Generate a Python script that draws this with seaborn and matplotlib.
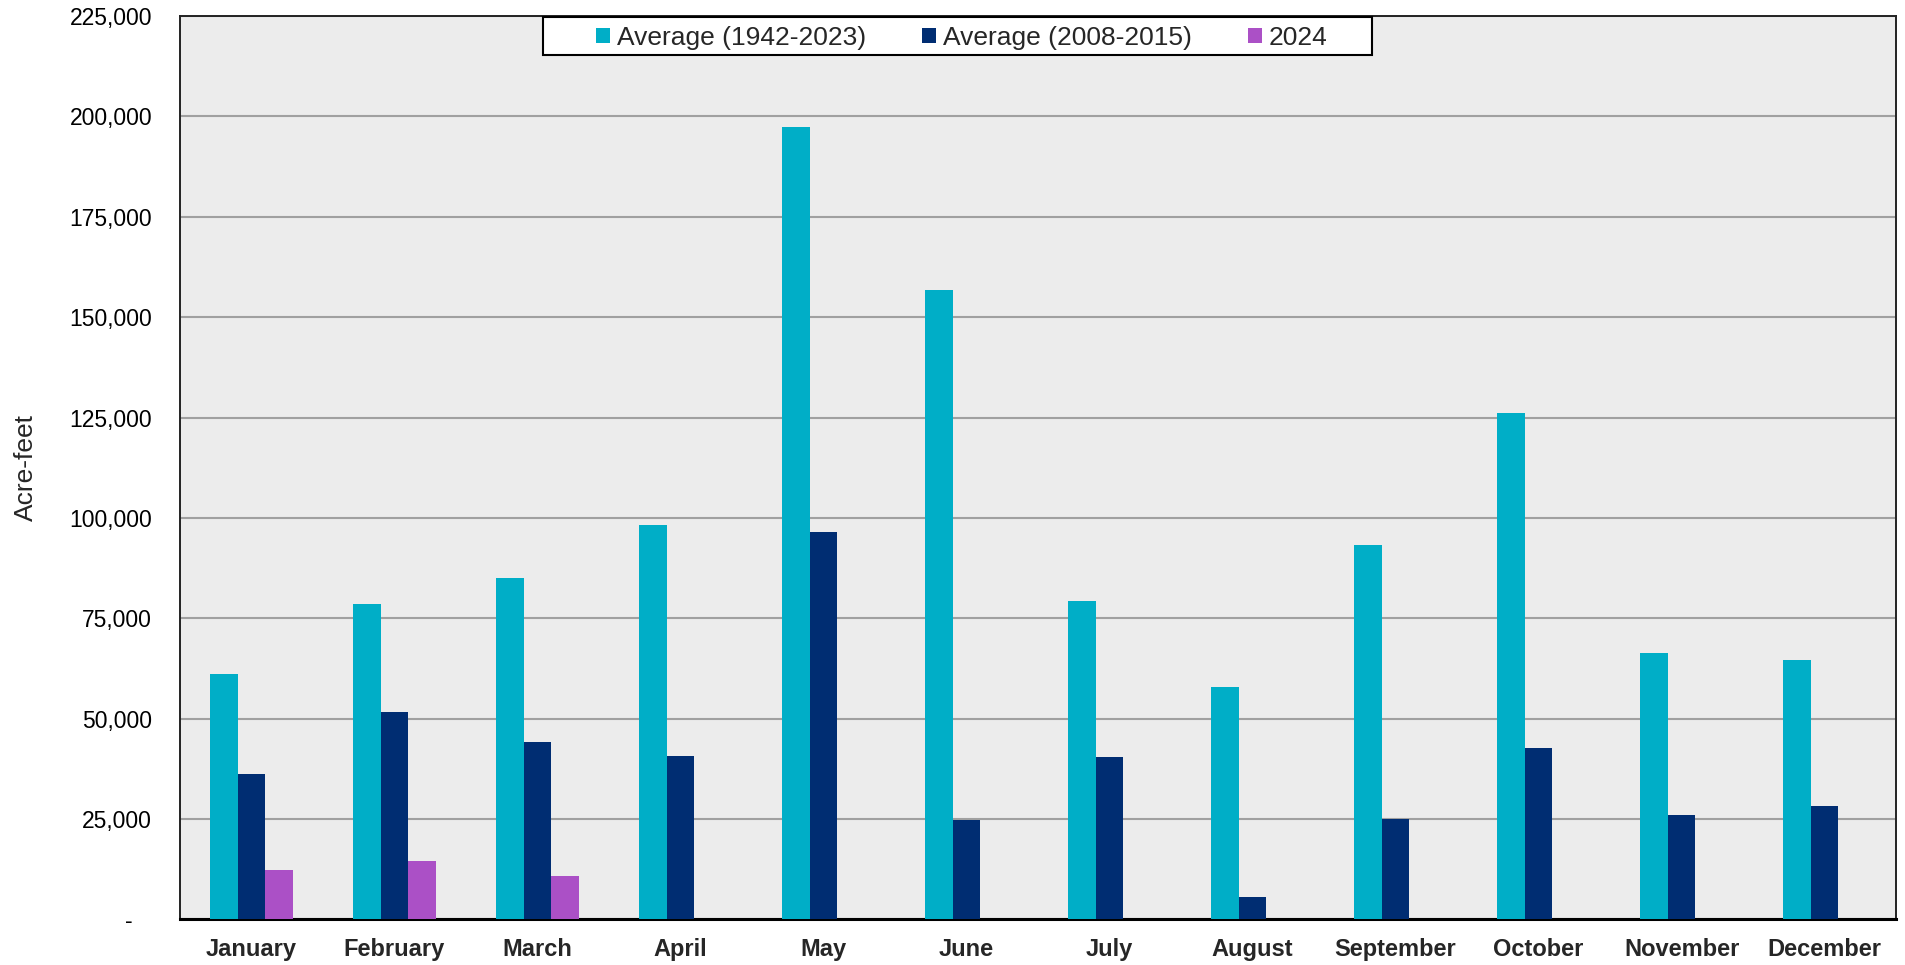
import numpy as np
import pandas as pd
import matplotlib
matplotlib.use('Agg')
import matplotlib.pyplot as plt
import seaborn as sns
from matplotlib.patches import Rectangle
from matplotlib.ticker import FuncFormatter, MultipleLocator

months = ['January', 'February', 'March', 'April', 'May', 'June',
          'July', 'August', 'September', 'October', 'November', 'December']
series = ['Average (1942-2023)', 'Average (2008-2015)', '2024']

avg_1942_2023 = [61200, 78600, 85100, 98200, 197400, 156800,
                 79400, 57900, 93300, 126100, 66400, 64600]
avg_2008_2015 = [36200, 51700, 44200, 40700, 96400, 24700,
                 40400, 5700, 24900, 42800, 26000, 28200]
y2024_months = ['January', 'February', 'March']
y2024 = [12300, 14500, 10900]

colors = ['#00AEC7', '#002D72', '#AB50C6']

df = pd.concat([
    pd.DataFrame({'Month': months, 'Value': avg_1942_2023, 'Series': series[0]}),
    pd.DataFrame({'Month': months, 'Value': avg_2008_2015, 'Series': series[1]}),
    pd.DataFrame({'Month': y2024_months, 'Value': y2024, 'Series': series[2]}),
], ignore_index=True)

sns.set_style('white')
plt.rcParams['font.family'] = ['Liberation Sans', 'DejaVu Sans']

fig = plt.figure(figsize=(19.06, 9.65), dpi=100)
ax = fig.add_axes([0.0944, 0.0472, 0.9004, 0.9362])
ax.set_facecolor('#ECECEC')

sns.barplot(data=df, x='Month', y='Value', hue='Series', order=months,
            hue_order=series, palette=colors, width=0.577, saturation=1,
            errorbar=None, linewidth=0, ax=ax, zorder=3)

ax.set_xlim(-0.5, 11.5)
ax.set_ylim(0, 225000)
ax.yaxis.set_major_locator(MultipleLocator(25000))
ax.yaxis.set_major_formatter(FuncFormatter(lambda v, p: '-   ' if v == 0 else f'{v:,.0f}'))
ax.grid(axis='y', color='#A0A0A0', linewidth=1.5, zorder=0)
ax.grid(axis='x', visible=False)
ax.set_axisbelow(True)

ax.tick_params(axis='y', length=0, pad=20, labelsize=16.5, labelcolor='black')
ax.tick_params(axis='x', which='major', length=0, pad=13, labelsize=17)
for lab in ax.get_xticklabels():
    lab.set_fontweight('bold')
# boundary ticks between the month groups
ax.set_xticks(np.arange(-0.5, 12, 1), minor=True)
ax.tick_params(axis='x', which='minor', direction='inout', length=16,
               width=1.3, color='black')

ax.set_xlabel('')
ax.set_ylabel('Acre-feet', fontsize=19)
ax.yaxis.set_label_coords(-0.0828, 0.5)

for side in ['top', 'right', 'left']:
    ax.spines[side].set_color('#222222')
    ax.spines[side].set_linewidth(1.4)
ax.spines['bottom'].set_color('black')
ax.spines['bottom'].set_linewidth(2.2)

# legend box (wider side padding than a matplotlib frame allows)
ax.add_patch(Rectangle((0.2115, 0.9568), 0.4831, 0.0421, transform=ax.transAxes,
                       facecolor='white', edgecolor='black', linewidth=1.5,
                       zorder=5, clip_on=False))
handles, labels = ax.get_legend_handles_labels()
leg = ax.legend(handles, labels, ncol=3, loc='center',
                bbox_to_anchor=(0.4555, 0.9760), frameon=False, fontsize=19,
                handlelength=0.53, handleheight=0.53, handletextpad=0.24,
                columnspacing=2.14, borderpad=0)
leg.set_zorder(6)

fig.savefig('out.png', dpi=100)
